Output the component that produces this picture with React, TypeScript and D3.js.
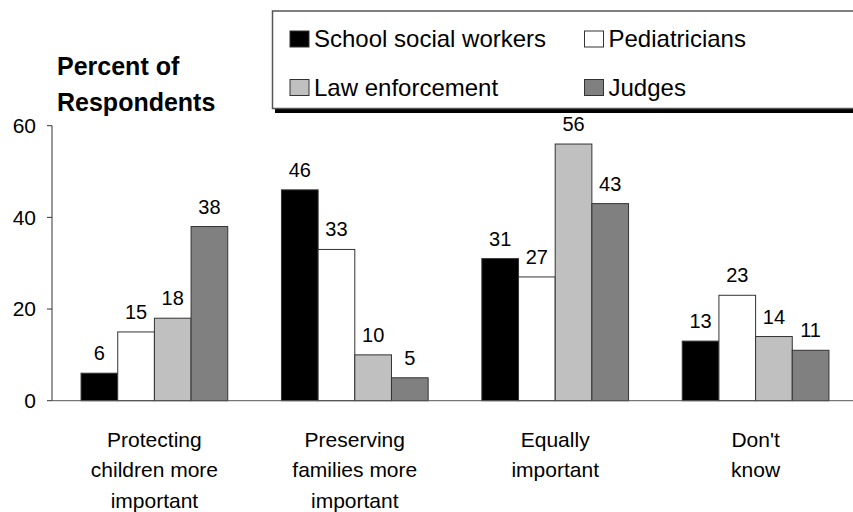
import React from "react";
import * as d3 from "d3";

const categories = [
  ["Protecting", "children more", "important"],
  ["Preserving", "families more", "important"],
  ["Equally", "important"],
  ["Don't", "know"],
];
const categoryKeys = ["protect", "preserve", "equal", "dontknow"];
const seriesNames = ["School social workers", "Pediatricians", "Law enforcement", "Judges"];
const seriesColors = ["#000000", "#ffffff", "#c0c0c0", "#808080"];
const schoolSocialWorkers = [6, 46, 31, 13];
const pediatricians = [15, 33, 27, 23];
const lawEnforcement = [18, 10, 56, 14];
const judges = [38, 5, 43, 11];
const seriesValues = [schoolSocialWorkers, pediatricians, lawEnforcement, judges];
const yTicks = [0, 20, 40, 60];

const W = 853;
const H = 512;
const FONT = "'Liberation Sans', Arial, sans-serif";

export default function App() {
  const x0 = d3.scaleBand<string>().domain(categoryKeys).range([52, 858]).paddingInner(0.268).paddingOuter(0.145);
  const x1 = d3.scaleBand<number>().domain(d3.range(seriesNames.length)).range([0, x0.bandwidth()]).padding(0);
  const y = d3.scaleLinear().domain([0, 60]).range([400.7, 125.7]);

  return (
    <svg width={W} height={H} style={{ position: "absolute", left: 0, top: 0, background: "#fff" }}>
      {/* title */}
      <text x={57} y={75} fontFamily={FONT} fontWeight="bold" fontSize={25} fill="#000">Percent of</text>
      <text x={57} y={111} fontFamily={FONT} fontWeight="bold" fontSize={25} fill="#000">Respondents</text>

      {/* legend */}
      <rect x={275} y={109} width={W - 275} height={4} fill="#000" />
      <rect x={272.5} y={11} width={W} height={97.5} fill="#fff" stroke="#555" strokeWidth={1.5} />
      {seriesNames.map((name, i) => {
        const col = i % 2;
        const row = Math.floor(i / 2);
        const sx = col === 0 ? 290 : 584.5;
        const sy = row === 0 ? 31 : 79.5;
        return (
          <g key={name}>
            <rect x={sx} y={sy} width={19} height={16} fill={seriesColors[i]} stroke="#333" strokeWidth={1} />
            <text x={sx + 24} y={sy + 16} fontFamily={FONT} fontSize={24} fill="#000">{name}</text>
          </g>
        );
      })}

      {/* y axis */}
      <line x1={52} x2={52} y1={y(60)} y2={y(0)} stroke="#333" strokeWidth={1} />
      {yTicks.map((t) => (
        <g key={t}>
          <line x1={47} x2={52} y1={y(t)} y2={y(t)} stroke="#333" strokeWidth={1} />
          <text x={36} y={y(t)} dy="0.35em" textAnchor="end" fontFamily={FONT} fontSize={21} fill="#000">{t}</text>
        </g>
      ))}

      {/* bars */}
      {categoryKeys.map((k, ci) => (
        <g key={k} transform={`translate(${x0(k)},0)`}>
          {seriesValues.map((vals, si) => {
            const v = vals[ci];
            const bx = x1(si)!;
            const bw = x1.bandwidth();
            return (
              <g key={si}>
                <rect x={bx} y={y(v)} width={bw} height={y(0) - y(v)} fill={seriesColors[si]} stroke="#333" strokeWidth={1} />
                <text x={bx + bw / 2} y={y(v) - 13} textAnchor="middle" fontFamily={FONT} fontSize={20} fill="#000">{v}</text>
              </g>
            );
          })}
        </g>
      ))}

      {/* x axis */}
      <line x1={52} x2={W} y1={y(0)} y2={y(0)} stroke="#555" strokeWidth={1} />
      {categoryKeys.map((k, ci) => (
        <text key={k} textAnchor="middle" fontFamily={FONT} fontSize={21} fill="#000">
          {categories[ci].map((line, li) => (
            <tspan key={li} x={x0(k)! + x0.bandwidth() / 2} y={446.5 + li * 30.5}>{line}</tspan>
          ))}
        </text>
      ))}
    </svg>
  );
}
